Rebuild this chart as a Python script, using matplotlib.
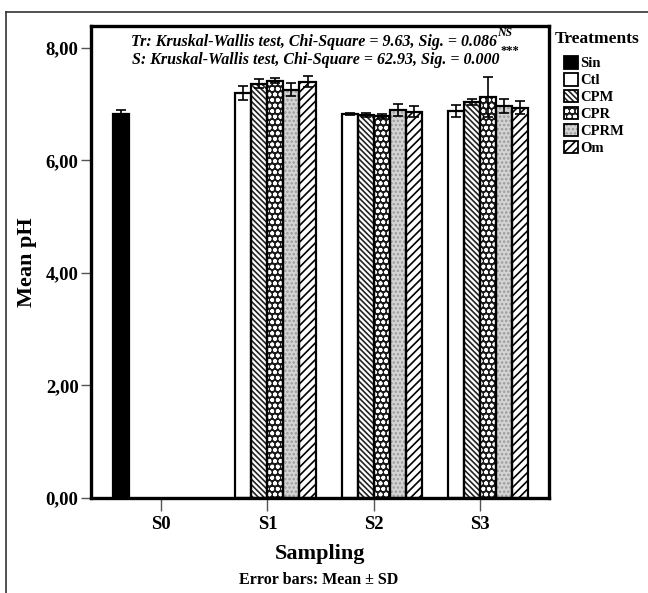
import numpy as np
import matplotlib
matplotlib.use("Agg")
import matplotlib.pyplot as plt
from matplotlib.patches import Patch
from matplotlib.lines import Line2D
from matplotlib.legend_handler import HandlerTuple

samplings = ["S0", "S1", "S2", "S3"]
treatments = ["Sin", "Ctl", "CPM", "CPR", "CPRM", "Om"]
nan = np.nan
# mean pH per treatment (rows) and sampling (columns)
sin_mean = [6.82, nan, nan, nan]
ctl_mean = [nan, 7.20, 6.83, 6.88]
cpm_mean = [nan, 7.36, 6.81, 7.04]
cpr_mean = [nan, 7.42, 6.79, 7.13]
cprm_mean = [nan, 7.26, 6.90, 6.97]
om_mean = [nan, 7.40, 6.87, 6.94]
sin_sd = [0.07, nan, nan, nan]
ctl_sd = [nan, 0.12, 0.02, 0.11]
cpm_sd = [nan, 0.08, 0.04, 0.06]
cpr_sd = [nan, 0.05, 0.03, 0.35]
cprm_sd = [nan, 0.12, 0.11, 0.13]
om_sd = [nan, 0.10, 0.10, 0.11]
yticks = [0, 2, 4, 6, 8]
ytick_labels = ["0,00", "2,00", "4,00", "6,00", "8,00"]

means = [sin_mean, ctl_mean, cpm_mean, cpr_mean, cprm_mean, om_mean]
sds = [sin_sd, ctl_sd, cpm_sd, cpr_sd, cprm_sd, om_sd]

styles = {
    "Sin": dict(face="black", hatch=None, hcol="black"),
    "Ctl": dict(face="white", hatch=None, hcol="black"),
    "CPM": dict(face="white", hatch="\\\\\\\\\\\\", hcol="#222222"),
    "CPR": dict(face="#1a1a1a", hatch="ooo", hcol="white"),
    "CPRM": dict(face="#d4d4d4", hatch="....", hcol="#9a9a9a"),
    "Om": dict(face="white", hatch="////", hcol="black"),
}

plt.rcParams["font.family"] = ["Liberation Serif", "DejaVu Serif"]
plt.rcParams["font.weight"] = "bold"
plt.rcParams["hatch.linewidth"] = 1.2

W, H = 648, 593
fig = plt.figure(figsize=(W / 100, H / 100), dpi=100)
ax = fig.add_axes([91 / W, 1 - 498 / H, (549 - 91) / W, (498 - 26) / H])

x = np.arange(len(samplings))
bw = 0.151
for i, t in enumerate(treatments):
    st = styles[t]
    pos = x + (i - 2.5) * bw
    m = np.array(means[i], dtype=float)
    s = np.array(sds[i], dtype=float)
    ok = ~np.isnan(m)
    ax.bar(pos[ok], m[ok], width=bw, color=st["face"], hatch=st["hatch"],
           edgecolor=st["hcol"], linewidth=0, zorder=2)
    ax.bar(pos[ok], m[ok], width=bw, fill=False, edgecolor="black",
           linewidth=1.6, zorder=3)
    ax.errorbar(pos[ok], m[ok], yerr=s[ok], fmt="none", ecolor="black",
                elinewidth=1.2, capsize=3.5, capthick=1.2, zorder=4)

ax.set_xlim(-0.66, 3.65)
ax.set_ylim(0, 8.39)
ax.set_xticks(x)
ax.set_xticklabels(samplings, fontsize=13.5, fontweight="bold")
ax.set_yticks(yticks)
ax.set_yticklabels(ytick_labels, fontsize=13.5, fontweight="bold")
ax.tick_params(axis="y", length=7, width=1, color="#555555", pad=2)
ax.tick_params(axis="x", length=9, width=1, color="#555555", pad=4)
for sp in ax.spines.values():
    sp.set_linewidth(2.4)
ax.set_xlabel("Sampling", fontsize=16, fontweight="bold", labelpad=8)
ax.set_ylabel("Mean pH", fontsize=16, fontweight="bold", labelpad=6)

def fx(px):
    return px / W

def fy(py):
    return 1 - py / H

fig.text(fx(319), fy(580), "Error bars: Mean \u00b1 SD", ha="center", va="center",
         fontsize=11.5, fontweight="bold")

fig.text(fx(497), fy(42), "Tr: Kruskal-Wallis test, Chi-Square = 9.63, Sig. = 0.086",
         ha="right", va="center", fontsize=11.5, fontweight="bold", style="italic")
fig.text(fx(497), fy(33), "NS", ha="left", va="center", fontsize=8.5,
         fontweight="bold", style="italic")
fig.text(fx(500), fy(60), "S: Kruskal-Wallis test, Chi-Square = 62.93, Sig. = 0.000",
         ha="right", va="center", fontsize=11.5, fontweight="bold", style="italic")
fig.text(fx(500), fy(51), "***", ha="left", va="center", fontsize=9,
         fontweight="bold")

handles = []
for t in treatments:
    st = styles[t]
    fillp = Patch(facecolor=st["face"], hatch=st["hatch"], edgecolor=st["hcol"],
                  linewidth=0)
    edgep = Patch(fill=False, edgecolor="black", linewidth=1.3)
    handles.append((fillp, edgep))
fig.text(fx(555), fy(39), "Treatments", ha="left", va="center",
         fontsize=12.5, fontweight="bold")
leg = fig.legend(handles, treatments, loc="upper left",
                 bbox_to_anchor=(fx(564), fy(56)), frameon=False,
                 handler_map={tuple: HandlerTuple(ndivide=1, pad=0)},
                 prop=dict(size=10.5, weight="bold"),
                 handlelength=0.95, handleheight=0.95, handletextpad=0.15,
                 labelspacing=0.18, borderpad=0, borderaxespad=0)

# outer frame lines (left and top)
fig.add_artist(Line2D([fx(6), fx(6)], [fy(12), fy(593)], color="#333333", lw=1.2))
fig.add_artist(Line2D([fx(6), fx(648)], [fy(12), fy(12)], color="#333333", lw=1.2))

fig.savefig("out.png", dpi=100)
